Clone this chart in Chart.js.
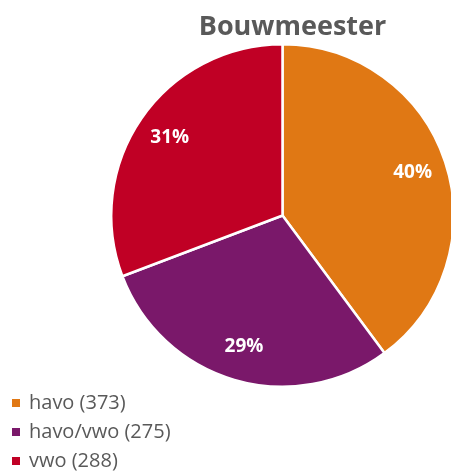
<!DOCTYPE html>
<html>
<head>
<meta charset="utf-8">
<script src="https://cdn.jsdelivr.net/npm/chart.js@4/dist/chart.umd.min.js"></script>
<style>
  html, body { margin: 0; padding: 0; background: #fff; overflow: hidden; width: 451px; height: 475px; }
  #wrap { position: absolute; left: 0; top: 0; width: 460px; height: 475px; }
  #title { position: absolute; left: 0; top: 8px; width: 585px; text-align: center;
           font-family: "Open Sans", sans-serif; font-weight: bold; font-size: 27px; color: #595959; line-height: 34px; }
  #legend { position: absolute; left: 12px; top: 388px; font-family: "Open Sans", sans-serif; font-size: 20px; color: #595959; }
  .item { height: 29px; line-height: 28px; white-space: nowrap; }
  .sw { display: inline-block; width: 8px; height: 8px; margin-right: 9px; vertical-align: middle; position: relative; top: -1px; }
</style>
</head>
<body>
<div id="wrap"><canvas id="c" width="460" height="475"></canvas></div>
<div id="title"></div>
<div id="legend"></div>
<script>
const titleText = "Bouwmeester";
const categories = ["havo", "havo/vwo", "vwo"];
const values = [373, 275, 288];
const colors = ["#E07814", "#7A186A", "#C00025"];

document.getElementById('title').textContent = titleText;
const legend = document.getElementById('legend');
categories.forEach((c, i) => {
  const d = document.createElement('div');
  d.className = 'item';
  const s = document.createElement('span');
  s.className = 'sw';
  s.style.background = colors[i];
  d.appendChild(s);
  d.appendChild(document.createTextNode(c + ' (' + values[i] + ')'));
  legend.appendChild(d);
});

const pctLabels = {
  id: 'pctLabels',
  afterDatasetsDraw(chart) {
    const ctx = chart.ctx;
    const meta = chart.getDatasetMeta(0);
    const total = values.reduce((a, b) => a + b, 0);
    ctx.save();
    ctx.fillStyle = '#ffffff';
    ctx.font = 'bold 19px "Open Sans", sans-serif';
    ctx.textAlign = 'center';
    ctx.textBaseline = 'middle';
    meta.data.forEach((arc, i) => {
      const p = arc.getProps(['x', 'y', 'startAngle', 'endAngle', 'outerRadius'], true);
      const mid = (p.startAngle + p.endAngle) / 2;
      const r = p.outerRadius * 0.8;
      const x = p.x + Math.cos(mid) * r;
      const y = p.y + Math.sin(mid) * r;
      ctx.fillText(Math.round(values[i] / total * 100) + '%', x, y);
    });
    ctx.restore();
  }
};

new Chart(document.getElementById('c'), {
  type: 'pie',
  data: {
    labels: categories,
    datasets: [{
      data: values,
      backgroundColor: colors,
      borderColor: '#ffffff',
      borderWidth: 2.5
    }]
  },
  options: {
    responsive: false,
    animation: false,
    layout: { padding: { left: 110, right: 5, top: 42, bottom: 86 } },
    plugins: {
      legend: { display: false },
      title: { display: false },
      tooltip: { enabled: false }
    }
  },
  plugins: [pctLabels]
});
</script>
</body>
</html>
